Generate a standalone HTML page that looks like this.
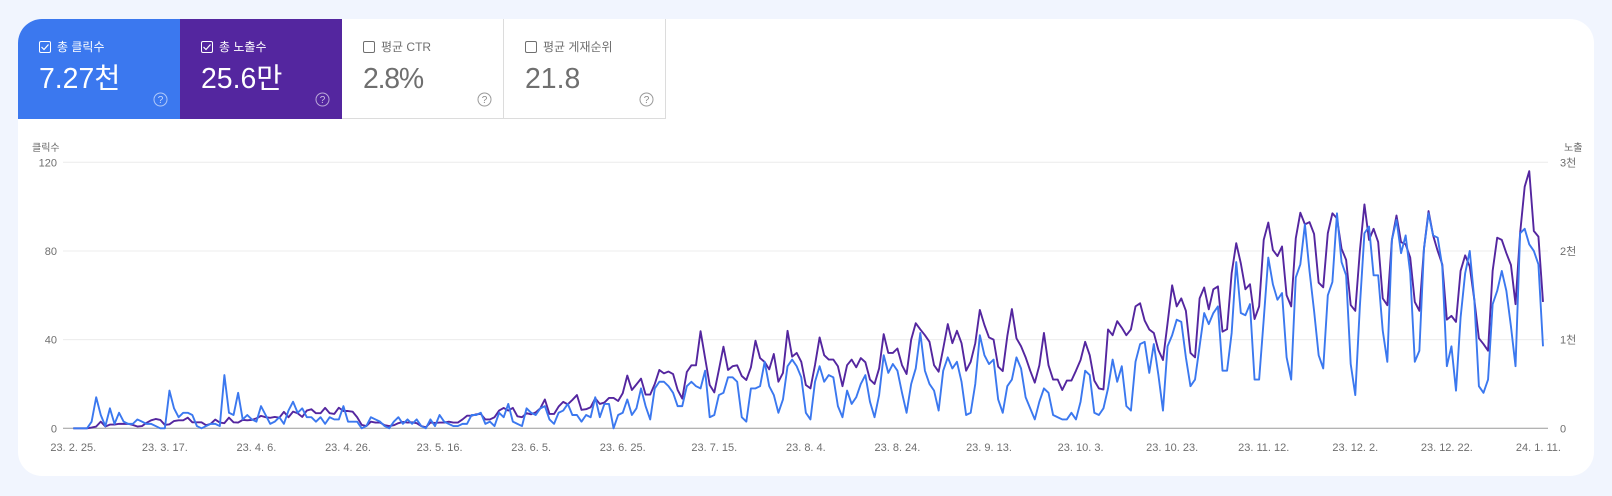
<!DOCTYPE html>
<html lang="ko">
<head>
<meta charset="utf-8">
<title>Search performance chart</title>
<style>
html,body{margin:0;padding:0;width:1612px;height:496px;overflow:hidden;background:#f1f5fe;font-family:"Liberation Sans","Noto Sans CJK KR",sans-serif;}
#card{position:absolute;left:18px;top:19px;width:1576px;height:457px;background:#fff;border-radius:24px;overflow:hidden;}
.tab{position:absolute;top:0;width:162px;height:100px;box-sizing:border-box;color:#fff;cursor:pointer;}
.tab.off{color:#6f6f6f;border-right:1px solid #dcdcdc;border-bottom:1px solid #dcdcdc;background:#fff;}
.tab .lbl{position:absolute;left:39px;top:20px;font-size:12px;line-height:16px;white-space:nowrap;}
.tab .val{position:absolute;left:21px;top:41px;font-size:28.4px;line-height:38px;white-space:nowrap;font-weight:400;}
.tab .cb{position:absolute;left:21px;top:22px;}
.tab .help{position:absolute;left:135px;top:73px;}
#chart{position:absolute;left:0;top:0;}
</style>
</head>
<body>
<div id="card">
  <div class="tab" style="left:0;background:#3b78ef">
    <svg class="cb" width="12" height="12"><rect x=".5" y=".5" width="11" height="11" rx="1.5" fill="none" stroke="#fff"/><path d="M2.5 6l2.5 2.5 4.5-5" fill="none" stroke="#fff" stroke-width="1.2"/></svg>
    <div class="lbl">총 클릭수</div>
    <div class="val">7.27천</div>
    <svg class="help" width="15" height="15"><circle cx="7.5" cy="7.5" r="6.5" fill="none" stroke="#fff" stroke-opacity=".6"/><text x="7.5" y="11" text-anchor="middle" font-size="10" fill="#fff" fill-opacity=".7">?</text></svg>
  </div>
  <div class="tab" style="left:162px;background:#54269f">
    <svg class="cb" width="12" height="12"><rect x=".5" y=".5" width="11" height="11" rx="1.5" fill="none" stroke="#fff"/><path d="M2.5 6l2.5 2.5 4.5-5" fill="none" stroke="#fff" stroke-width="1.2"/></svg>
    <div class="lbl">총 노출수</div>
    <div class="val">25.6만</div>
    <svg class="help" width="15" height="15"><circle cx="7.5" cy="7.5" r="6.5" fill="none" stroke="#fff" stroke-opacity=".6"/><text x="7.5" y="11" text-anchor="middle" font-size="10" fill="#fff" fill-opacity=".7">?</text></svg>
  </div>
  <div class="tab off" style="left:324px">
    <svg class="cb" width="12" height="12"><rect x=".5" y=".5" width="11" height="11" rx="1.5" fill="none" stroke="#6f6f6f"/></svg>
    <div class="lbl">평균 CTR</div>
    <div class="val" style="letter-spacing:-1.2px">2.8%</div>
    <svg class="help" width="15" height="15"><circle cx="7.5" cy="7.5" r="6.5" fill="none" stroke="#9a9a9a"/><text x="7.5" y="11" text-anchor="middle" font-size="10" fill="#8a8a8a">?</text></svg>
  </div>
  <div class="tab off" style="left:486px">
    <svg class="cb" width="12" height="12"><rect x=".5" y=".5" width="11" height="11" rx="1.5" fill="none" stroke="#6f6f6f"/></svg>
    <div class="lbl">평균 게재순위</div>
    <div class="val">21.8</div>
    <svg class="help" width="15" height="15"><circle cx="7.5" cy="7.5" r="6.5" fill="none" stroke="#9a9a9a"/><text x="7.5" y="11" text-anchor="middle" font-size="10" fill="#8a8a8a">?</text></svg>
  </div>
</div>
<svg id="chart" width="1612" height="496" xmlns="http://www.w3.org/2000/svg"></svg>
<script>
const dateLabels = ["23. 2. 25.","23. 3. 17.","23. 4. 6.","23. 4. 26.","23. 5. 16.","23. 6. 5.","23. 6. 25.","23. 7. 15.","23. 8. 4.","23. 8. 24.","23. 9. 13.","23. 10. 3.","23. 10. 23.","23. 11. 12.","23. 12. 2.","23. 12. 22.","24. 1. 11."];
const labelEveryDays = 20;
const clickTicks = [0,40,80,120];
const clickTickLabels = ["0","40","80","120"];
const impressionTicks = [0,1000,2000,3000];
const impressionTickLabels = ["0","1천","2천","3천"];
const clicks = [
0,0,0,0,3,14,6,1,9,2,
7,3,2,2,4,3,2,2,1,0,
0,17,9,5,7,7,6,1,0,1,
2,2,1,24,7,6,16,4,6,4,
3,10,6,2,3,5,2,8,12,7,
9,5,5,3,5,2,5,4,4,10,
3,3,3,0,1,5,4,3,1,0,
3,5,2,4,2,4,1,0,4,1,
6,3,2,1,1,2,2,6,6,7,
2,3,1,7,5,11,3,2,1,9,
7,6,9,10,4,2,7,8,11,6,
6,3,6,5,14,5,11,11,0,6,
7,13,6,9,18,10,4,18,21,21,19,
16,10,10,19,21,19,18,26,5,6,
15,16,23,23,21,5,3,18,18,19,
30,19,15,7,13,28,31,28,23,7,
4,21,28,21,24,23,10,5,17,11,
14,20,24,12,5,15,33,25,29,26,
16,7,20,27,43,26,20,17,8,26,
32,27,30,21,6,7,20,42,33,29,
31,13,7,19,22,32,27,14,9,4,
12,18,16,6,5,4,4,7,4,12,
26,24,7,6,9,18,31,21,28,10,
8,30,38,39,25,38,24,8,37,42,
49,48,32,19,22,37,52,47,52,55,
26,26,43,75,52,51,56,22,22,49,
77,65,58,61,32,22,68,74,92,71,
53,33,27,60,66,97,75,69,29,15,
55,88,91,69,69,44,30,85,94,79,
87,70,30,35,81,97,87,86,73,28,
37,17,50,70,80,58,19,16,22,56,
62,71,62,46,28,88,90,83,80,74,
37];
const impressions = [
0,0,0,0,8,20,75,20,42,42,
50,50,50,38,20,25,62,90,105,95,
38,45,82,90,90,120,68,68,68,35,
50,98,65,58,120,68,65,95,90,95,
112,140,125,118,128,120,185,125,188,170,
128,200,215,170,170,230,170,162,232,195,
195,188,125,38,25,75,65,65,35,25,
35,58,72,65,68,58,25,12,65,60,
65,65,75,65,65,100,142,142,158,162,
100,100,125,200,230,200,230,135,125,170,
158,180,225,325,162,162,245,298,270,320,
375,208,215,238,338,275,290,342,342,308,
395,595,432,495,560,380,380,500,658,620,640,
612,432,335,635,710,710,1095,790,488,405,
658,920,658,700,710,590,545,688,988,792,
748,665,838,525,625,1100,808,850,750,488,
450,715,1025,825,775,775,700,475,712,775,
688,792,745,550,500,675,1062,850,850,900,
712,612,1000,1185,1115,1050,975,712,638,900,
1175,960,1100,960,650,750,960,1335,1165,1025,
1000,695,645,1040,1345,1015,925,800,650,515,
710,1075,710,550,550,432,538,538,650,770,
975,825,538,450,438,1115,1050,1208,1135,1050,
1115,1375,1410,1215,1115,1075,882,770,1185,1612,
1375,1465,1325,850,800,1465,1588,1342,1568,1600,
1090,1118,1750,2088,1860,1568,1625,1232,1375,2125,
2320,2012,1942,2050,1500,1375,2142,2432,2300,2325,
2192,1642,1590,2200,2425,2368,2025,1900,1390,1325,
2000,2525,2125,2250,2100,1465,1388,2125,2400,2100,
2075,1925,1425,1325,2025,2450,2175,2000,1850,1225,
1268,1200,1775,1950,1825,1450,1015,950,875,1775,
2150,2125,1975,1842,1400,2200,2725,2900,2225,2162,
1425];

const NS = "http://www.w3.org/2000/svg";
const svg = document.getElementById("chart");
const plotTop = 162.3, plotBottom = 428.3, plotLeft = 63, plotRight = 1548;
const xStart = 73.3, xEnd = 1543;
const xScale = i => xStart + (xEnd - xStart) * i / (clicks.length - 1);
const yClicks = v => plotBottom - (plotBottom - plotTop) * v / clickTicks[clickTicks.length - 1];
const yImpressions = v => plotBottom - (plotBottom - plotTop) * v / impressionTicks[impressionTicks.length - 1];

function make(tag, attrs, text) {
  const el = document.createElementNS(NS, tag);
  for (const k in attrs) el.setAttribute(k, attrs[k]);
  if (text !== undefined) el.textContent = text;
  svg.appendChild(el);
  return el;
}
const fontStack = '"Liberation Sans","Noto Sans CJK KR",sans-serif';

clickTicks.forEach((t, i) => {
  const y = yClicks(t);
  const line = make("line", {x1: plotLeft, x2: plotRight, y1: y, y2: y, stroke: t === 0 ? "#9a9a9a" : "#ececec", "stroke-width": 1});
  
  
  const lab = make("text", {x: 57, y: y + 4, "text-anchor": "end", "font-size": 11, fill: "#6e6e6e", "font-family": fontStack}, clickTickLabels[i]);
  
  
});
impressionTicks.forEach((t, i) => {
  const y = yImpressions(t);
  const lab = make("text", {x: 1560, y: y + 4, "font-size": 11, fill: "#6e6e6e", "font-family": fontStack}, impressionTickLabels[i]);
  
  
});
const leftTitle = make("text", {x: 32, y: 151, "font-size": 10, fill: "#666", "font-family": fontStack}, "클릭수");


const rightTitle = make("text", {x: 1564, y: 151, "font-size": 10, fill: "#666", "font-family": fontStack}, "노출");



dateLabels.forEach((d, i) => {
  const lab = make("text", {x: xScale(i * labelEveryDays), y: 451, "text-anchor": "middle", "font-size": 11, fill: "#6e6e6e", "font-family": fontStack}, d);
  
  
});

function seriesPoints(values, yFn) {
  return values.map((v, i) => xScale(i).toFixed(2) + "," + yFn(v).toFixed(2)).join(" ");
}
const impressionsLine = make("polyline", {points: seriesPoints(impressions, yImpressions), fill: "none", stroke: "#54269f", "stroke-width": 1.9, "stroke-linejoin": "round"});


const clicksLine = make("polyline", {points: seriesPoints(clicks, yClicks), fill: "none", stroke: "#3b78ef", "stroke-width": 1.9, "stroke-linejoin": "round"});


</script>
</body>
</html>
